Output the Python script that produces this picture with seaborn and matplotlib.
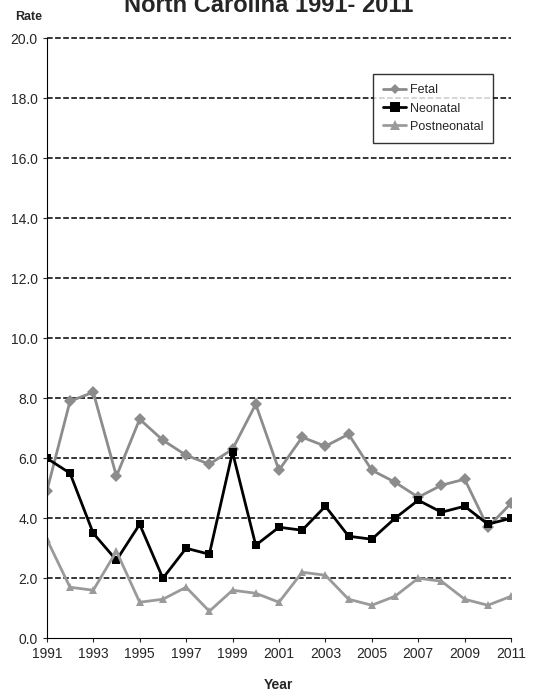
import numpy as np
import pandas as pd
import seaborn as sns
from matplotlib import pyplot as plt

sns.set_style("white")
plt.rcParams['font.family'] = ['Liberation Sans', 'DejaVu Sans']

years = list(range(1991, 2012))
fetal = [4.9, 7.9, 8.2, 5.4, 7.3, 6.6, 6.1, 5.8, 6.3, 7.8, 5.6, 6.7, 6.4, 6.8, 5.6, 5.2, 4.7, 5.1, 5.3, 3.7, 4.5]
neonatal = [6.0, 5.5, 3.5, 2.6, 3.8, 2.0, 3.0, 2.8, 6.2, 3.1, 3.7, 3.6, 4.4, 3.4, 3.3, 4.0, 4.6, 4.2, 4.4, 3.8, 4.0]
postneonatal = [3.3, 1.7, 1.6, 2.9, 1.2, 1.3, 1.7, 0.9, 1.6, 1.5, 1.2, 2.2, 2.1, 1.3, 1.1, 1.4, 2.0, 1.9, 1.3, 1.1, 1.4]

df = pd.DataFrame({"Year": years * 3,
                   "Rate": fetal + neonatal + postneonatal,
                   "Series": ["Fetal"] * 21 + ["Neonatal"] * 21 + ["Postneonatal"] * 21})

fig = plt.figure(figsize=(5.38, 6.93), dpi=100)
ax = fig.add_axes([0.087, 0.079, 0.863, 0.866])
for y in np.arange(2, 21, 2):
    ax.axhline(y, color="black", ls="--", lw=1.1, zorder=0, clip_on=False)

sns.lineplot(data=df, x="Year", y="Rate", hue="Series", style="Series",
             palette={"Fetal": "#8c8c8c", "Neonatal": "black", "Postneonatal": "#9a9a9a"},
             markers={"Fetal": "D", "Neonatal": "s", "Postneonatal": "^"},
             dashes=False, linewidth=2, markeredgewidth=0, ax=ax)
for line, ms in zip(ax.get_lines()[-3:], [5, 7, 7]):
    line.set_markersize(ms)

ax.set_xlim(1991, 2011)
ax.set_ylim(0, 20)
ax.set_xticks(range(1991, 2012, 2))
ax.set_yticks(np.arange(0, 21, 2))
ax.set_yticklabels([f"{v:.1f}" for v in np.arange(0, 21, 2)])
ax.tick_params(labelsize=10, length=3, direction="out", left=True, bottom=True)
ax.set_xlabel("Year", fontsize=10, fontweight="bold", labelpad=12)
ax.set_ylabel("")
ax.text(-0.04, 1.025, "Rate", transform=ax.transAxes, fontsize=9, fontweight="bold", ha="center", va="bottom")
fig.text(0.5, 0.992, "North Carolina 1991- 2011", fontsize=17, fontweight="bold", ha="center", va="center")
for s in ["top", "right"]:
    ax.spines[s].set_visible(False)
for s in ["left", "bottom"]:
    ax.spines[s].set_color("black")
leg = ax.legend(loc="upper right", bbox_to_anchor=(0.975, 0.95), frameon=True, fancybox=False,
                edgecolor="black", fontsize=9, borderpad=0.8, handlelength=1.8, handletextpad=0.3)
for ln, ms in zip(leg.get_lines(), [5, 7, 7]):
    ln.set_markersize(ms)
fig.savefig("out.png", dpi=100)
